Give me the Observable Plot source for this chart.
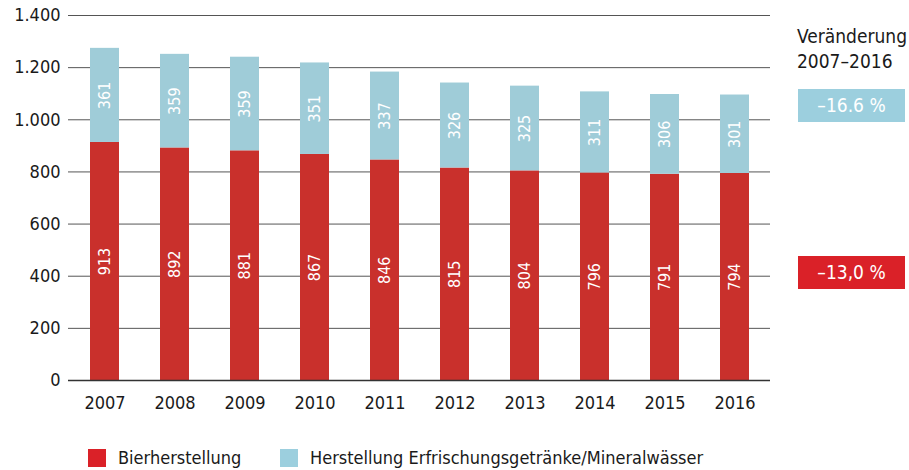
<!DOCTYPE html>
<html><head><meta charset="utf-8">
<script src="https://cdn.jsdelivr.net/npm/d3@7"></script>
<script src="https://cdn.jsdelivr.net/npm/@observablehq/plot@0.6"></script>
<style>
body{margin:0;background:#fff;}
#wrap{position:relative;width:909px;height:470px;font-family:"DejaVu Sans Condensed","Liberation Sans Narrow",sans-serif;color:#1a1a1a;}
.ann{position:absolute;font-size:19px;line-height:25px;}
.box{position:absolute;width:107px;height:33px;color:#fff;font-size:19px;line-height:33px;text-align:center;}
.leg{position:absolute;top:447px;font-size:18px;display:flex;align-items:center;}
.sw{width:18px;height:18px;margin-right:12px;}
</style></head>
<body><div id="wrap"></div>
<script>
const years = ["2007","2008","2009","2010","2011","2012","2013","2014","2015","2016"];
const bier = [913,892,881,867,846,815,804,796,791,794];
const erfr = [361,359,359,351,337,326,325,311,306,301];
const seriesNames = ["Bierherstellung","Herstellung Erfrischungsgetränke/Mineralwässer"];
const seriesColors = ["#c9302c","#9fccd8"];
const boxColors = ["#da2128","#9ccfde"];
const changes = ["–13,0 %","–16.6 %"];
const yTicks = [0,200,400,600,800,1000,1200,1400];

const data = [];
years.forEach((y,i)=>{
  data.push({year:y, series:seriesNames[0], value:bier[i]});
  data.push({year:y, series:seriesNames[1], value:erfr[i]});
});
const fmt = d => d3.format(",")(d).replace(/,/g,".");
const font = '"DejaVu Sans Condensed","Liberation Sans Narrow",sans-serif';

const chart = Plot.plot({
  width: 909, height: 430,
  marginLeft: 68, marginRight: 139, marginTop: 15, marginBottom: 50,
  style: {fontFamily: font, fontSize: "18px", color:"#1a1a1a", background:"#fff"},
  x: {domain: years, paddingInner: 0.59, paddingOuter: 0.29, label: null, tickSize: 0, tickPadding: 16},
  y: {domain: [0,1400], ticks: yTicks, tickFormat: fmt, label: null, tickSize: 0, tickPadding: 8},
  color: {domain: seriesNames, range: seriesColors},
  marks: [
    Plot.ruleY(yTicks.filter(d=>d>0), {stroke:"#555", strokeWidth:1}),
    Plot.barY(data, Plot.stackY({x:"year", y:"value", fill:"series", order: seriesNames})),
    Plot.ruleY([0], {stroke:"#333", strokeWidth:1.5}),
    Plot.text(data, Plot.stackY({x:"year", y:"value", z:"series", order: seriesNames, text: d=>String(d.value), rotate:-90, fill:"#fff", fontSize:16}))
  ]
});
const wrap = document.getElementById("wrap");
wrap.appendChild(chart);

const ann = document.createElement("div");
ann.className="ann"; ann.style.left="797px"; ann.style.top="24px";
ann.innerHTML="Veränderung<br>2007–2016";
wrap.appendChild(ann);

[1,0].forEach(i=>{
  const b=document.createElement("div");
  b.className="box"; b.style.left="798px";
  b.style.top = (i===1 ? 89 : 256)+"px";
  b.style.background=boxColors[i]; b.textContent=changes[i];
  wrap.appendChild(b);
});
const legLeft=[88,280];
seriesNames.forEach((s,i)=>{
  const l=document.createElement("div");
  l.className="leg"; l.style.left=legLeft[i]+"px";
  l.innerHTML=`<div class="sw" style="background:${boxColors[i]}"></div><span>${s}</span>`;
  wrap.appendChild(l);
});
</script></body></html>
